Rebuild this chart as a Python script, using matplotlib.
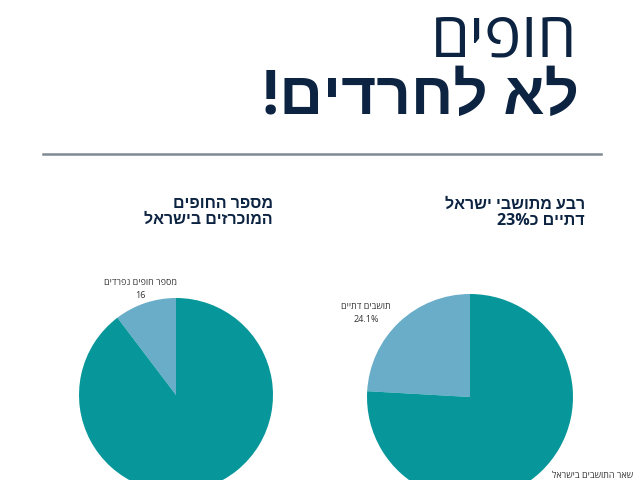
import re
import matplotlib
matplotlib.use('Agg')
import matplotlib.pyplot as plt
from matplotlib.lines import Line2D

plt.rcParams['font.family'] = ['Open Sans', 'Liberation Sans', 'DejaVu Sans']


def rtl(s):
    # matplotlib has no bidi: reverse Hebrew, keep numbers left-to-right
    r = s[::-1]
    return re.sub(r'[0-9.%]+', lambda m: m.group(0)[::-1], r)


# data
beach_labels = ['מספר חופים נפרדים', 'שאר החופים']
beach_values = [16, 139]
pop_labels = ['תושבים דתיים', 'שאר התושבים בישראל']
pop_values = [24.1, 75.9]

navy = '#0c2341'
teal = '#07979a'
light = '#69adc9'

fig = plt.figure(figsize=(6.4, 4.8), dpi=100)

fig.text(0.902, 0.917, rtl('חופים'), ha='right', va='center', fontsize=45,
         color=navy, fontweight='normal')
fig.text(0.905, 0.796, rtl('לא לחרדים!'), ha='right', va='center', fontsize=43.5,
         color=navy, fontweight='bold')
fig.add_artist(Line2D([43 / 640, 601 / 640], [1 - 154 / 480] * 2,
                      color='#7f8a93', lw=1.8, transform=fig.transFigure))

fig.text(273 / 640, 1 - 212 / 480, rtl('מספר החופים') + '\n' + rtl('המוכרזים בישראל'),
         ha='right', va='center', fontsize=11.5, color=navy, fontweight='bold',
         linespacing=0.95)
fig.text(585 / 640, 1 - 213 / 480, rtl('רבע מתושבי ישראל') + '\n' + rtl('דתיים כ23%'),
         ha='right', va='center', fontsize=11.5, color=navy, fontweight='bold',
         linespacing=0.95)

# left pie
ax1 = fig.add_axes([79 / 640, (480 - 492) / 480, 194 / 640, 194 / 480])
lab1 = [rtl(l) + '\n' + str(v) for l, v in zip(beach_labels, beach_values)]
w, t = ax1.pie(beach_values, labels=lab1, colors=[light, teal], startangle=90,
               counterclock=True, labeldistance=1.15,
               textprops=dict(fontsize=6.5, color='#333333'))
for txt in t:
    txt.set_ha('center')
    txt.set_va('center')
    txt.set_linespacing(1.6)
ax1.set_xlim(-1, 1)
ax1.set_ylim(-1, 1)
ax1.set_aspect('equal')
ax1.axis('off')

# right pie
ax2 = fig.add_axes([367 / 640, (480 - 500) / 480, 206 / 640, 206 / 480])
lab2 = [rtl(l) + '\n' + f'{v:.1f}%' for l, v in zip(pop_labels, pop_values)]
w, t = ax2.pie(pop_values, labels=lab2, colors=[light, teal], startangle=90,
               counterclock=True, labeldistance=1.12,
               textprops=dict(fontsize=6.5, color='#333333'))
for txt in t:
    txt.set_va('center')
    txt.set_multialignment('center')
    txt.set_linespacing(1.6)
# the label of the big slice sits on the bottom edge, like in the slide
x, y = t[1].get_position()
t[1].set_position((x + 0.03, y - 0.01))
ax2.set_xlim(-1, 1)
ax2.set_ylim(-1, 1)
ax2.set_aspect('equal')
ax2.axis('off')

fig.savefig('out.png', dpi=100)
